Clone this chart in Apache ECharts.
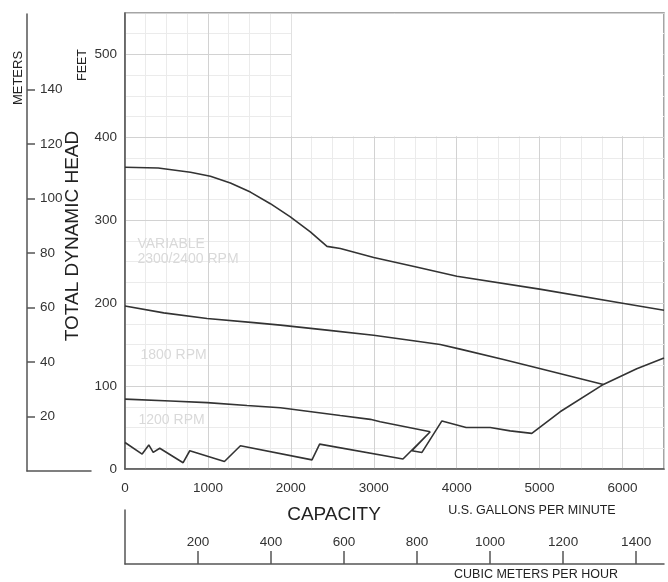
<!DOCTYPE html>
<html>
<head>
<meta charset="utf-8">
<script src="https://cdn.jsdelivr.net/npm/echarts@6/dist/echarts.min.js"></script>
<style>
html,body{margin:0;padding:0;background:#fff;}
#chart{width:668px;height:582px;}
</style>
</head>
<body>
<div id="chart"></div>
<script>
// ---- data (capacity in US gpm, head in feet) ----
const curve2400 = [[0,364],[400,363],[789,358],[1030,353],[1271,345],[1512,334],[1753,320],[1994,304],[2235,286],[2436,268.5],[2597,266],[3000,255],[3500,244],[4002,232.5],[5000,217],[6000,200],[6500,191.5]];
const curve1800 = [[0,196.5],[467,188.3],[990,181.6],[1552,176.5],[1874,173.5],[2436,167.5],[2998,161.4],[3500,154.4],[3801,150.2],[4042,144.6],[4564,132],[5000,121.3],[5769,102]];
const curve1200 = [[0,84.3],[548,82],[990,80],[1472,76.5],[1874,73.9],[2596,64.5],[2958,59.9],[3078,57],[3681,45]];
const systemCurve = [[0,32],[207,18],[287,29],[340,20],[419,25],[701,7.6],[781,22],[1199,9],[1392,28],[2255,11],[2347,30],[3352,12],[3681,45],[3460,22],[3581,20],[3822,58],[4114,50],[4404,50],[4645,46],[4906,43],[5247,69],[5769,102],[6171,121],[6500,134]];

const gpmTicks = [0,1000,2000,3000,4000,5000,6000];
const feetTicks = [0,100,200,300,400,500];
const meterTicks = [20,40,60,80,100,120,140];
const cubicTicks = [200,400,600,800,1000,1200,1400];

const curveLabels = ['VARIABLE\n2300/2400 RPM','1800 RPM','1200 RPM'];
const labelAnchors = [[150,262],[187,137],[163,59]];

const GPM_MAX = 6500, FEET_MAX = 550;
const FT_PER_M = 3.28084, GPM_PER_M3H = 4.40287;

const FONT = 'Liberation Sans, Arial, Helvetica, sans-serif';
const AX = '#555';
const MAJOR = '#d2d2d2';
const MINOR = '#ebebeb';
const plain = v => String(Math.round(v));

const chart = echarts.init(document.getElementById('chart'), null, {renderer:'canvas'});

function lineSeries(name, data, idx){
  const s = {
    name, type:'line', data, xAxisIndex:0, yAxisIndex:0,
    showSymbol:false, symbol:'none', smooth:false,
    lineStyle:{color:'#333', width:1.6},
    animation:false, silent:true, z:3
  };
  if (idx !== null) {
    s.markPoint = {
      silent:true, symbol:'circle', symbolSize:0, animation:false,
      data:[{coord: labelAnchors[idx], value: curveLabels[idx]}],
      label:{show:true, position:'right', distance:0, formatter: curveLabels[idx],
        color:'#d9d9d9', fontSize:14, fontFamily:FONT, lineHeight:15, align:'left', verticalAlign:'middle'}
    };
  }
  return s;
}

const s2400 = lineSeries('2300/2400 RPM', curve2400, 0);
s2400.markArea = {
  silent:true, animation:false,
  itemStyle:{color:'#ffffff', borderWidth:0},
  data:[[{coord:[2010,401.2]},{coord:[6488,548.7]}]]
};

function textEl(text, x, y, size, rot){
  return {
    type:'text', x, y, rotation: rot || 0, silent:true,
    style:{text, fill:'#222', font: size + 'px ' + FONT,
      textAlign:'center', textVerticalAlign:'middle', align:'center', verticalAlign:'middle'}
  };
}

const option = {
  animation:false,
  backgroundColor:'#fff',
  grid:[
    {left:125, right:4, top:13, bottom:113, show:true, borderColor:'#888', borderWidth:1.5, backgroundColor:'transparent'},
    {left:27, width:64, top:14, bottom:111},
    {left:125, right:4, top:510, height:54}
  ],
  xAxis:[
    { // 0 main gpm
      type:'value', gridIndex:0, min:0, max:GPM_MAX, interval:1000, z:1,
      axisLine:{show:true, lineStyle:{color:AX, width:1.5}},
      axisTick:{show:false},
      axisLabel:{color:'#333', fontSize:13.5, fontFamily:FONT, margin:12, customValues:gpmTicks, formatter:plain},
      splitLine:{show:true, lineStyle:{color:MAJOR, width:1}}
    },
    { // 1 minor gpm grid
      type:'value', gridIndex:0, min:0, max:GPM_MAX, interval:250, z:0,
      axisLine:{show:false}, axisTick:{show:false}, axisLabel:{show:false},
      splitLine:{show:true, lineStyle:{color:MINOR, width:1}}
    },
    { // 2 meters axis base
      type:'value', gridIndex:1, min:0, max:1,
      axisLine:{show:true, onZero:false, lineStyle:{color:AX, width:1.5}},
      axisTick:{show:false}, axisLabel:{show:false}, splitLine:{show:false}
    },
    { // 3 cubic meters per hour
      type:'value', gridIndex:2, min:0, max:GPM_MAX/GPM_PER_M3H, interval:200,
      axisLine:{show:true, onZero:false, lineStyle:{color:AX, width:1.5}},
      axisTick:{show:true, inside:true, length:13, lineStyle:{color:AX, width:1.5}, customValues:cubicTicks},
      axisLabel:{show:true, inside:true, margin:15, color:'#333', fontSize:13.5, fontFamily:FONT, customValues:cubicTicks, formatter:plain},
      splitLine:{show:false}
    }
  ],
  yAxis:[
    { // 0 feet
      type:'value', gridIndex:0, min:0, max:FEET_MAX, interval:100, z:1,
      axisLine:{show:true, onZero:false, lineStyle:{color:AX, width:1.5}},
      axisTick:{show:false},
      axisLabel:{color:'#333', fontSize:13.5, fontFamily:FONT, margin:8, customValues:feetTicks, formatter:plain},
      splitLine:{show:true, lineStyle:{color:MAJOR, width:1}}
    },
    { // 1 minor feet grid
      type:'value', gridIndex:0, min:0, max:FEET_MAX, interval:25, z:0,
      axisLine:{show:false}, axisTick:{show:false}, axisLabel:{show:false},
      splitLine:{show:true, lineStyle:{color:MINOR, width:1}}
    },
    { // 2 meters
      type:'value', gridIndex:1, min:0, max:FEET_MAX/FT_PER_M, interval:20,
      axisLine:{show:true, onZero:false, lineStyle:{color:AX, width:1.5}},
      axisTick:{show:true, inside:true, length:8, lineStyle:{color:AX, width:1.5}, customValues:meterTicks},
      axisLabel:{show:true, inside:true, margin:13, color:'#333', fontSize:13.5, fontFamily:FONT, customValues:meterTicks, formatter:plain},
      splitLine:{show:false}
    },
    { // 3 cubic base
      type:'value', gridIndex:2, min:0, max:1,
      axisLine:{show:true, onZero:false, lineStyle:{color:AX, width:1.5}},
      axisTick:{show:false}, axisLabel:{show:false}, splitLine:{show:false}
    }
  ],
  graphic:[
    textEl('METERS', 18, 78, 13, Math.PI/2),
    textEl('FEET', 83, 65, 12.5, Math.PI/2),
    textEl('TOTAL DYNAMIC HEAD', 72.5, 236, 19, Math.PI/2),
    textEl('CAPACITY', 334, 515, 19, 0),
    textEl('U.S. GALLONS PER MINUTE', 532, 511, 12.5, 0),
    textEl('CUBIC METERS PER HOUR', 536, 575, 12.5, 0)
  ],
  series:[
    s2400,
    lineSeries('1800 RPM', curve1800, 1),
    lineSeries('1200 RPM', curve1200, 2),
    lineSeries('System', systemCurve, null)
  ]
};
chart.setOption(option);
</script>
</body>
</html>
